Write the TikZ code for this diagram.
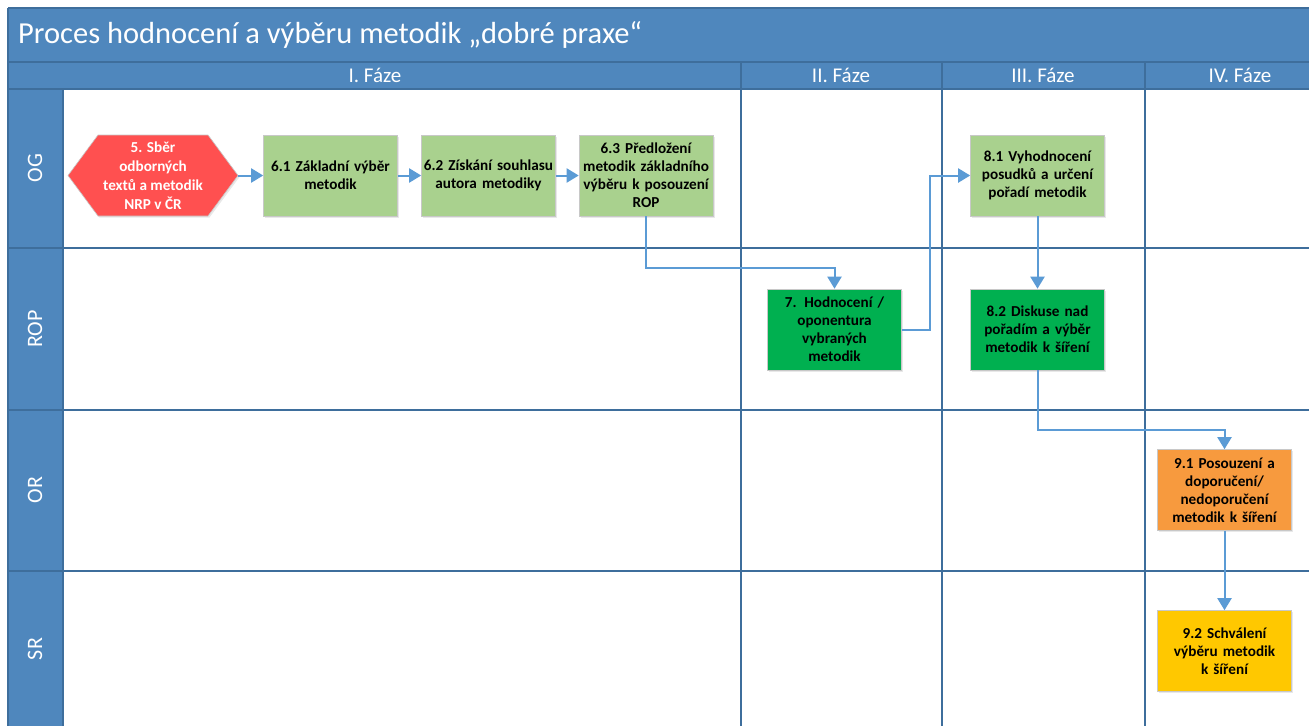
\documentclass[tikz,border=0pt]{standalone}
\usepackage{fontspec}
\setmainfont{Carlito}
\usetikzlibrary{arrows.meta,shadows}
\definecolor{hdr}{HTML}{4F87BD}
\definecolor{sepc}{HTML}{3E6E9C}
\definecolor{arrc}{HTML}{5B9BD5}
\definecolor{lgreen}{HTML}{A9D18E}
\definecolor{dgreen}{HTML}{00B050}
\definecolor{redh}{HTML}{FF5050}
\definecolor{orng}{HTML}{F79A3E}
\definecolor{yell}{HTML}{FFC800}
\definecolor{boxline}{HTML}{C8C8C8}
\tikzset{
  sepline/.style={draw=sepc, line width=1.1pt},
  procbox/.style={rectangle, draw=boxline, line width=0.6pt, minimum width=134pt, minimum height=81pt,
    text width=134pt, align=center, inner sep=0pt,
    font=\bfseries\fontsize{15.2}{18}\selectfont,
    drop shadow={opacity=0.18, shadow xshift=1.5pt, shadow yshift=-1.5pt}},
  arr/.style={draw=arrc, line width=2pt, -{Triangle[width=14pt,length=12pt]}},
  phase/.style={text=white, font=\fontsize{21}{24}\selectfont},
  lane/.style={text=white, rotate=90, font=\fontsize{22}{24}\selectfont},
}
\begin{document}
\begin{tikzpicture}[x=1pt,y=-1pt]
\useasboundingbox (0,0) rectangle (1309,726);
\fill[white] (0,0) rectangle (1309,726);
% header bands
\fill[hdr] (8,8) rectangle (1309,62);
\fill[hdr] (8,62) rectangle (1309,89);
\fill[hdr] (8,89) rectangle (63,726);
% separator lines
\draw[sepline] (8,8) -- (1309,8);
\draw[sepline] (8,8) -- (8,726);
\draw[sepline] (8,62) -- (1309,62);
\draw[sepline] (8,89) -- (1309,89);
\draw[sepline] (63,89) -- (63,726);
\foreach \yy in {248,410,571} \draw[sepline] (8,\yy) -- (1309,\yy);
\foreach \xx in {741,942,1145} \draw[sepline] (\xx,62) -- (\xx,726);
% title and headers
\node[anchor=west, text=white, font=\fontsize{30.5}{34}\selectfont, inner sep=0pt] (title) at (18,35) {Proces hodnocení a výběru metodik „dobré praxe“};
\node[phase] (ph1) at (375,75.5) {I. Fáze};
\node[phase] (ph2) at (841,75.5) {II. Fáze};
\node[phase] (ph3) at (1043,75.5) {III. Fáze};
\node[phase] (ph4) at (1240,75.5) {IV. Fáze};
\node[lane] (lOG) at (35,168) {OG};
\node[lane] (lROP) at (35,329) {ROP};
\node[lane] (lOR) at (35,490) {OR};
\node[lane] (lSR) at (35,649) {SR};
% hexagon
\fill[redh, drop shadow={opacity=0.18, shadow xshift=1.5pt, shadow yshift=-1.5pt}] (68,175.5) -- (98,135) -- (208,135) -- (238,175.5) -- (208,216) -- (98,216) -- cycle;
\draw[boxline, line width=0.6pt] (68,175.5) -- (98,135) -- (208,135) -- (238,175.5) -- (208,216) -- (98,216) -- cycle;
\node[rectangle, minimum width=170pt, minimum height=81pt, inner sep=0pt, align=center, text=white,
  font=\bfseries\fontsize{15.2}{19}\selectfont] (hex) at (153,175.5) {5. Sběr\\odborných\\textů a metodik\\NRP v ČR};
% boxes
\node[procbox, fill=lgreen] (b61) at (330.5,175.5) {6.1 Základní výběr\\metodik};
\node[procbox, fill=lgreen] (b62) at (488.5,175.5) {6.2 Získání souhlasu\\autora metodiky};
\node[procbox, fill=lgreen] (b63) at (646,175.5) {6.3 Předložení\\metodik základního\\výběru k posouzení\\ROP};
\node[procbox, fill=lgreen] (b81) at (1037.5,175.5) {8.1 Vyhodnocení\\posudků a určení\\pořadí metodik};
\node[procbox, fill=dgreen] (b7) at (834.5,329.5) {7. Hodnocení /\\oponentura\\vybraných\\metodik};
\node[procbox, fill=dgreen] (b82) at (1037.5,329.5) {8.2 Diskuse nad\\pořadím a výběr\\metodik k šíření};
\node[procbox, fill=orng] (b91) at (1224.5,490) {9.1 Posouzení a\\doporučení/\\nedoporučení\\metodik k šíření};
\node[procbox, fill=yell] (b92) at (1224.5,651) {9.2 Schválení\\výběru metodik\\k šíření};
% connectors
\draw[arr] (hex.east) -- (b61.west);
\draw[arr] (b61.east) -- (b62.west);
\draw[arr] (b62.east) -- (b63.west);
\draw[arr] (b63.south) -- ++(0,52) -| (b7.north);
\draw[arr] (b7.east) -- ++(28,0) |- (b81.west);
\draw[arr] (b81.south) -- (b82.north);
\draw[arr] (b82.south) -- ++(0,60) -| (b91.north);
\draw[arr] (b91.south) -- (b92.north);
\end{tikzpicture}
\end{document}
